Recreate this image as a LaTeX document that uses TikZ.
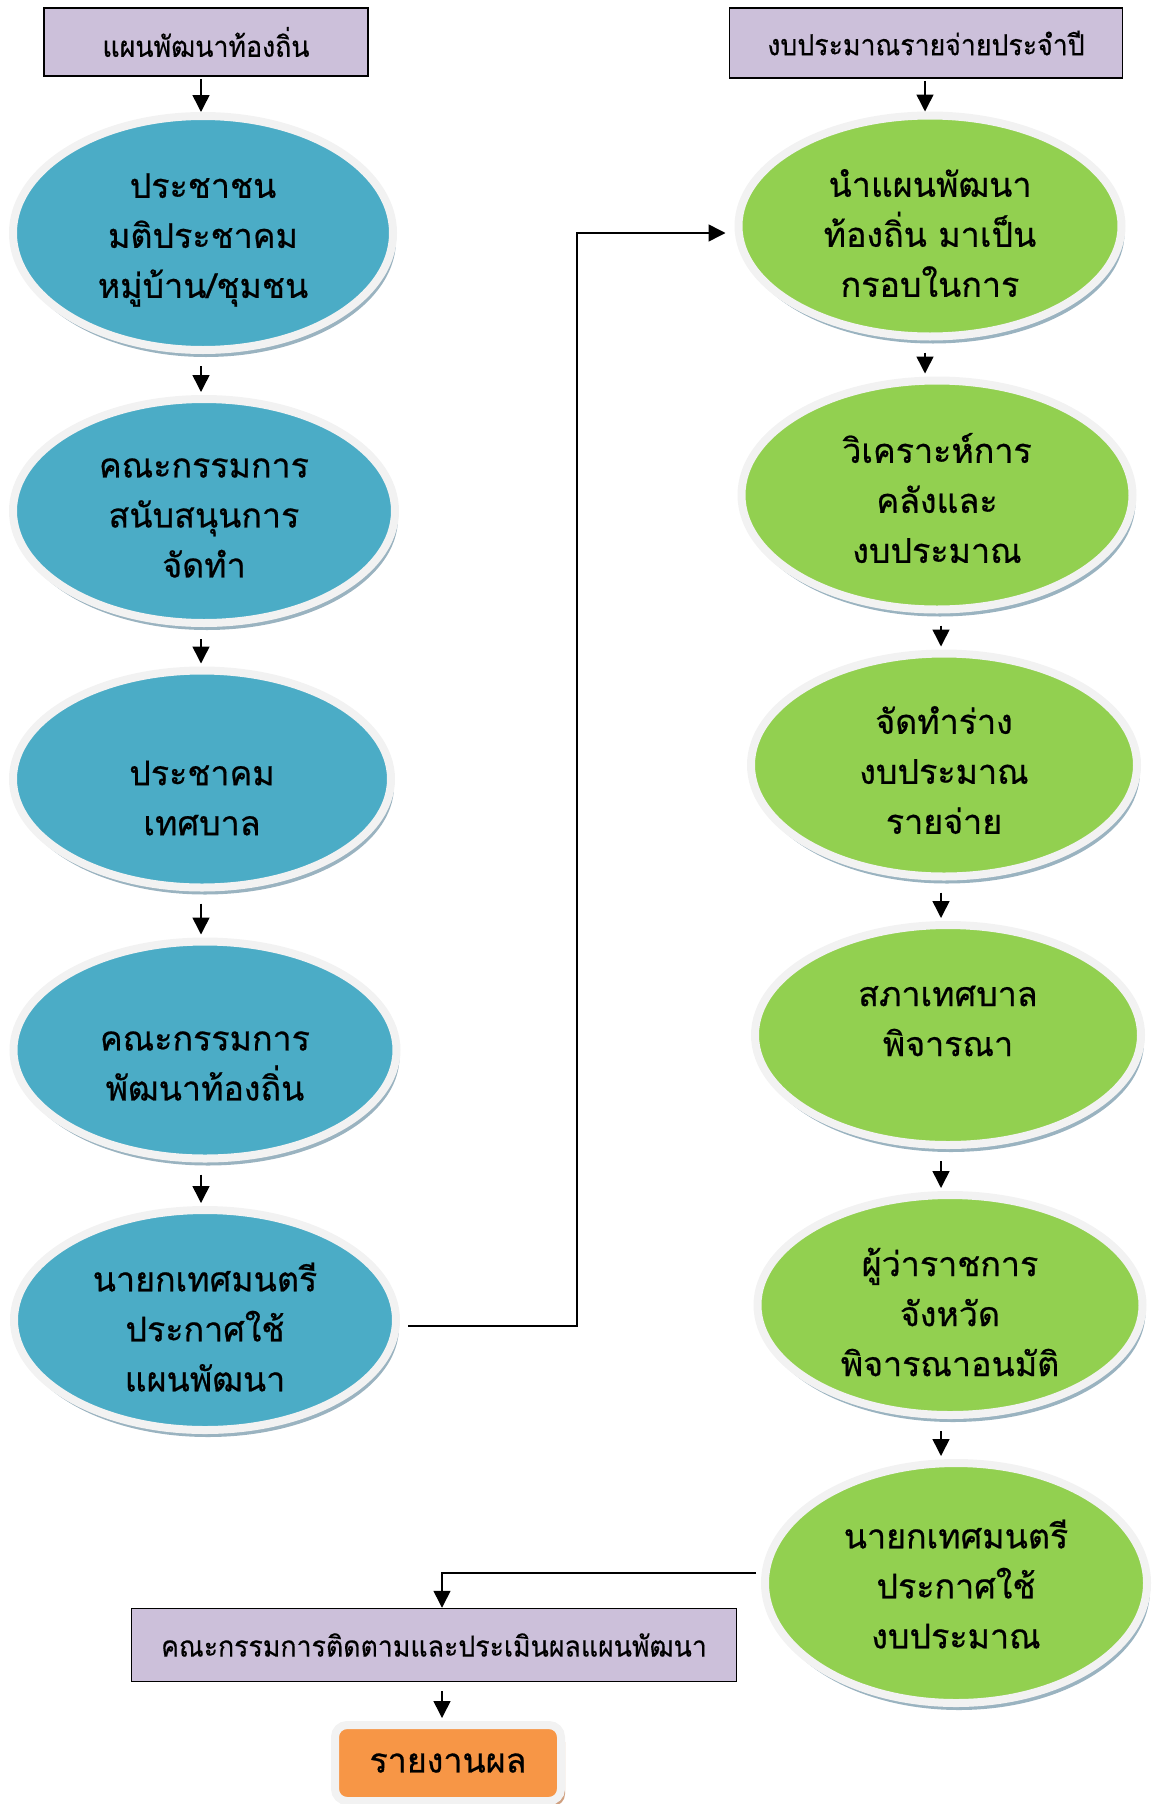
\documentclass[tikz,border=0pt]{standalone}
\usepackage{fontspec}
\newfontfamily\thai[Script=Thai,FakeBold=0.6]{Loma}
\newfontfamily\thaibox[Script=Thai,FakeStretch=0.92,FakeBold=0.4]{Loma}
\usetikzlibrary{shapes.geometric,shadows,arrows.meta,calc}
\definecolor{boxpurple}{HTML}{CCC0DA}
\definecolor{ellblue}{HTML}{4BACC6}
\definecolor{ellgreen}{HTML}{92D050}
\definecolor{ringgray}{HTML}{F2F2F2}
\definecolor{shadowblue}{HTML}{9AB3C0}
\definecolor{boxorange}{HTML}{F79646}
\definecolor{shadowbrown}{HTML}{D0A080}
\begin{document}
\begin{tikzpicture}[x=1pt,y=-1pt,
  headbox/.style={rectangle,draw=black,line width=1.5pt,fill=boxpurple,inner sep=0pt,
    font=\thaibox\fontsize{29}{34}\selectfont},
  ell/.style={ellipse,draw=ringgray,line width=8pt,inner sep=0pt,
    drop shadow={shadow xshift=3pt,shadow yshift=-7pt,fill=shadowblue,opacity=1}},
  bl/.style={ell,fill=ellblue},
  gr/.style={ell,fill=ellgreen},
  txt/.style={align=center,inner sep=0pt,font=\thai\fontsize{34}{50}\selectfont},
  arr/.style={line width=1.5pt,-{Triangle[length=17pt,width=17pt]}}
]
\useasboundingbox (0,0) rectangle (1153,1804);

% header boxes
\node[headbox,minimum width=324pt,minimum height=68pt] (B1) at (206,42) {แผนพัฒนาท้องถิ่น};
\node[headbox,minimum width=393pt,minimum height=70pt] (B2) at (926,43) {งบประมาณรายจ่ายประจำปี};

% left column
\node[bl,minimum width=380pt,minimum height=234pt] (L1) at (203,233) {};
\node[txt] (tL1) at (203,240) {ประชาชน\\มติประชาคม\\หมู่บ้าน/ชุมชน};
\node[bl,minimum width=382pt,minimum height=224pt] (L2) at (204,511) {};
\node[txt] (tL2) at (204,518) {คณะกรรมการ\\สนับสนุนการ\\จัดทำ};
\node[bl,minimum width=378pt,minimum height=217pt] (L3) at (202,779) {};
\node[txt] (tL3) at (202,798) {ประชาคม\\เทศบาล};
\node[bl,minimum width=383pt,minimum height=217pt] (L4) at (205,1050) {};
\node[txt] (tL4) at (205,1066) {คณะกรรมการ\\พัฒนาท้องถิ่น};
\node[bl,minimum width=382pt,minimum height=220pt] (L5) at (205,1320) {};
\node[txt] (tL5) at (205,1327) {นายกเทศมนตรี\\ประกาศใช้\\แผนพัฒนา};

% right column
\node[gr,minimum width=383pt,minimum height=221pt] (R1) at (930,226) {};
\node[txt] (tR1) at (930,233) {นำแผนพัฒนา\\ท้องถิ่น มาเป็น\\กรอบในการ};
\node[gr,minimum width=391pt,minimum height=229pt] (R2) at (937,495) {};
\node[txt] (tR2) at (937,498) {วิเคราะห์การ\\คลังและ\\งบประมาณ};
\node[gr,minimum width=386pt,minimum height=223pt] (R3) at (944,765) {};
\node[txt] (tR3) at (944,770) {จัดทำร่าง\\งบประมาณ\\รายจ่าย};
\node[gr,minimum width=386pt,minimum height=220pt] (R4) at (948,1035) {};
\node[txt] (tR4) at (948,1021) {สภาเทศบาล\\พิจารณา};
\node[gr,minimum width=385pt,minimum height=220pt] (R5) at (950,1305) {};
\node[txt] (tR5) at (950,1312) {ผู้ว่าราชการ\\จังหวัด\\พิจารณาอนมัติ};
\node[gr,minimum width=382pt,minimum height=240pt] (R6) at (956,1583) {};
\node[txt] (tR6) at (956,1584) {นายกเทศมนตรี\\ประกาศใช้\\งบประมาณ};

% bottom boxes
\node[headbox,minimum width=605pt,minimum height=73pt] (B3) at (434,1645) {คณะกรรมการติดตามและประเมินผลแผนพัฒนา};
\node[rectangle,rounded corners=12pt,draw=ringgray,line width=8pt,fill=boxorange,
  minimum width=226pt,minimum height=76pt,inner sep=0pt,
  drop shadow={shadow xshift=4pt,shadow yshift=-5pt,fill=shadowbrown,opacity=1},
  font=\thai\fontsize{34}{40}\selectfont] (OR) at (448,1763) {รายงานผล};

% helper x positions
\coordinate (xl) at (201,0);
\coordinate (xr1) at (925,0);
\coordinate (xr) at (941,0);
\coordinate (xb) at (442,0);
\coordinate (r6l) at (756,1573);

% left arrows
\draw[arr,shorten <=2pt] (B1.south -| xl) -- (L1.north -| xl);
\draw[arr,shorten <=12pt,shorten >=3pt] (L1.south -| xl) -- (L2.north -| xl);
\draw[arr,shorten <=12pt,shorten >=3pt] (L2.south -| xl) -- (L3.north -| xl);
\draw[arr,shorten <=12pt,shorten >=3pt] (L3.south -| xl) -- (L4.north -| xl);
\draw[arr,shorten <=12pt,shorten >=3pt] (L4.south -| xl) -- (L5.north -| xl);

% right arrows
\draw[arr,shorten <=2pt] (B2.south -| xr1) -- (R1.north -| xr1);
\draw[arr,shorten <=12pt,shorten >=3pt] (R1.south -| xr1) -- (R2.north -| xr1);
\draw[arr,shorten <=12pt,shorten >=3pt] (R2.south -| xr) -- (R3.north -| xr);
\draw[arr,shorten <=12pt,shorten >=3pt] (R3.south -| xr) -- (R4.north -| xr);
\draw[arr,shorten <=12pt,shorten >=3pt] (R4.south -| xr) -- (R5.north -| xr);
\draw[arr,shorten <=12pt,shorten >=3pt] (R5.south -| xr) -- (R6.north -| xr);

% cross connectors
\draw[arr,shorten <=8pt,shorten >=9pt] ([yshift=-6pt]L5.east) -- ++(177,0) |- ([yshift=-7pt]R1.west);
\draw[arr] (r6l) -| (B3.north -| xb);
\draw[arr,shorten <=9pt,shorten >=3pt] (B3.south -| xb) -- (OR.north -| xb);
\end{tikzpicture}
\end{document}
